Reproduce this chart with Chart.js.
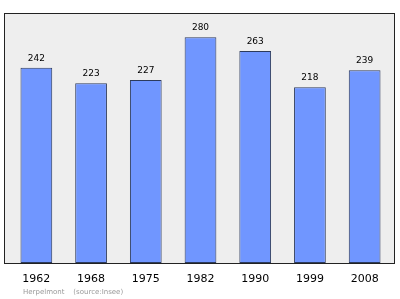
<!DOCTYPE html>
<html><head><meta charset="utf-8">
<script src="https://cdn.jsdelivr.net/npm/chart.js@4"></script>
<style>html,body{margin:0;padding:0;background:#fff}#w{width:400px;height:299px}</style>
</head><body><div id="w"><canvas id="c"></canvas></div>
<script>
const years = ['1962','1968','1975','1982','1990','1999','2008'];
const population = [242,223,227,280,263,218,239];
const footer = 'Herpelmont    (source:Insee)';

const frame = {
  id:'frame',
  beforeDatasetsDraw(ch){
    const a=ch.chartArea, x=ch.ctx;
    x.save();
    x.fillStyle='#eeeeee';
    x.fillRect(a.left-5,a.top,a.right-a.left+8,a.bottom-a.top);
    x.restore();
  },
  afterDatasetsDraw(ch){
    const a=ch.chartArea, x=ch.ctx;
    x.save();
    x.strokeStyle='#222';x.lineWidth=1;
    x.strokeRect(a.left-5+0.5,a.top+0.5,a.right-a.left+7,a.bottom-a.top);
    x.fillStyle='#000';x.font='9px "DejaVu Sans"';x.textAlign='center';x.textBaseline='alphabetic';
    ch.getDatasetMeta(0).data.forEach((b,i)=>{x.fillText(String(population[i]),b.x,b.y-7);});
    x.fillStyle='#999';x.font='7px "DejaVu Sans"';x.textAlign='left';x.textBaseline='middle';
    x.fillText(footer,23,292);
    x.restore();
  }
};

new Chart(document.getElementById('c'),{
  type:'bar',
  data:{labels:years,datasets:[{data:population,backgroundColor:'#7096ff',borderColor:'#2c3a5c',borderWidth:1,borderSkipped:false,barPercentage:0.58,categoryPercentage:1}]},
  options:{
    responsive:true,maintainAspectRatio:false,animation:false,
    layout:{padding:{top:13,left:9,right:8,bottom:0}},
    plugins:{legend:{display:false},tooltip:{enabled:false}},
    scales:{
      x:{grid:{display:false,drawTicks:false},border:{display:false},
         ticks:{color:'#000',font:{family:'DejaVu Sans',size:11},padding:10},
         afterFit(s){s.height=36;}},
      y:{display:false,min:0,max:310}
    }
  },
  plugins:[frame]
});
</script></body></html>
